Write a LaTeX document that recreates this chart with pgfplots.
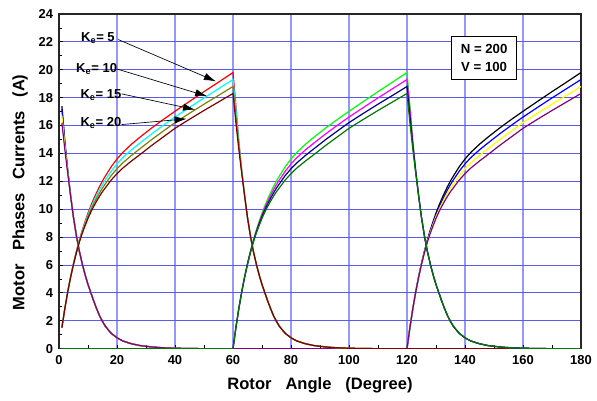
\documentclass[border=0pt]{standalone}
\usepackage{fontspec}
\setmainfont{Liberation Sans}
\usepackage{pgfplots}
\pgfplotsset{compat=1.18}
\usepackage{pgfplotstable}
\usetikzlibrary{arrows.meta}

\definecolor{cRed}{RGB}{255,0,0}
\definecolor{cCyan}{RGB}{0,255,255}
\definecolor{cOlive}{RGB}{128,128,0}
\definecolor{cDarkRed}{RGB}{128,0,0}
\definecolor{cGreen}{RGB}{0,255,0}
\definecolor{cMagenta}{RGB}{255,0,255}
\definecolor{cNavy}{RGB}{0,0,128}
\definecolor{cDarkGreen}{RGB}{0,120,0}
\definecolor{cBlack}{RGB}{0,0,0}
\definecolor{cBlue}{RGB}{0,0,255}
\definecolor{cYellow}{RGB}{255,255,0}
\definecolor{cPurple}{RGB}{128,0,128}
\definecolor{gridV}{RGB}{150,150,255}
\definecolor{gridH}{RGB}{90,90,235}

% Phase A: rises 0-60, decays after 60
\pgfplotstableread{
x k5 k10 k15 k20
1 1.51 1.51 1.51 1.51
2 2.86 2.86 2.86 2.86
3 4.06 4.06 4.06 4.06
4 5.14 5.13 5.12 5.11
5 6.11 6.09 6.07 6.05
6 6.98 6.95 6.91 6.88
7 7.77 7.72 7.67 7.62
8 8.48 8.41 8.33 8.26
9 9.12 9.02 8.92 8.82
10 9.72 9.59 9.47 9.34
11 10.26 10.11 9.95 9.8
12 10.75 10.57 10.39 10.21
13 11.21 11.0 10.8 10.59
14 11.64 11.41 11.17 10.94
15 12.03 11.77 11.52 11.26
16 12.38 12.1 11.82 11.54
18 13.04 12.72 12.41 12.09
20 13.6 13.25 12.9 12.55
22 14.07 13.7 13.32 12.95
25 14.66 14.26 13.86 13.46
28 15.18 14.76 14.35 13.93
32 15.83 15.41 15.0 14.58
36 16.44 16.02 15.61 15.19
40 17.02 16.61 16.21 15.8
45 17.73 17.3 16.88 16.45
50 18.43 17.98 17.53 17.08
55 19.11 18.64 18.16 17.69
60 19.8 19.3 18.8 18.3
61 17.4 17.2 16.7 16.2
62 14.9 14.8 14.6 14.3
63 12.8 12.8 12.7 12.6
64 11.0 11.0 11.0 10.95
65 9.4 9.4 9.4 9.4
66 8.1 8.1 8.1 8.1
67 7.0 7.0 7.0 7.0
68 6.1 6.1 6.1 6.1
69 5.3 5.3 5.3 5.3
70 4.6 4.6 4.6 4.6
71 4.0 4.0 4.0 4.0
72 3.4 3.4 3.4 3.4
73 2.85 2.85 2.85 2.85
74 2.35 2.35 2.35 2.35
75 1.95 1.95 1.95 1.95
76 1.6 1.6 1.6 1.6
78 1.1 1.1 1.1 1.1
80 0.78 0.78 0.78 0.78
82 0.55 0.55 0.55 0.55
85 0.35 0.35 0.35 0.35
88 0.22 0.22 0.22 0.22
92 0.12 0.12 0.12 0.12
96 0.06 0.06 0.06 0.06
100 0.03 0.03 0.03 0.03
105 0.01 0.01 0.01 0.01
110 0 0 0 0
180 0 0 0 0
}\phA

% Phase B: zero until 60, rises 60-120, decays after 120
\pgfplotstableread{
x k5 k10 k15 k20
1 0 0 0 0
60 0 0 0 0
61 1.51 1.51 1.51 1.51
62 2.86 2.86 2.86 2.86
63 4.06 4.06 4.06 4.06
64 5.14 5.13 5.12 5.11
65 6.11 6.09 6.07 6.05
66 6.98 6.95 6.91 6.88
67 7.77 7.72 7.67 7.62
68 8.48 8.41 8.33 8.26
69 9.12 9.02 8.92 8.82
70 9.72 9.59 9.47 9.34
71 10.26 10.11 9.95 9.8
72 10.75 10.57 10.39 10.21
73 11.21 11.0 10.8 10.59
74 11.64 11.41 11.17 10.94
75 12.03 11.77 11.52 11.26
76 12.38 12.1 11.82 11.54
78 13.04 12.72 12.41 12.09
80 13.6 13.25 12.9 12.55
82 14.07 13.7 13.32 12.95
85 14.66 14.26 13.86 13.46
88 15.18 14.76 14.35 13.93
92 15.83 15.41 15.0 14.58
96 16.44 16.02 15.61 15.19
100 17.02 16.61 16.21 15.8
105 17.73 17.3 16.88 16.45
110 18.43 17.98 17.53 17.08
115 19.11 18.64 18.16 17.69
120 19.8 19.3 18.8 18.3
121 17.4 17.2 16.7 16.2
122 14.9 14.8 14.6 14.3
123 12.8 12.8 12.7 12.6
124 11.0 11.0 11.0 10.95
125 9.4 9.4 9.4 9.4
126 8.1 8.1 8.1 8.1
127 7.0 7.0 7.0 7.0
128 6.1 6.1 6.1 6.1
129 5.3 5.3 5.3 5.3
130 4.6 4.6 4.6 4.6
131 4.0 4.0 4.0 4.0
132 3.4 3.4 3.4 3.4
133 2.85 2.85 2.85 2.85
134 2.35 2.35 2.35 2.35
135 1.95 1.95 1.95 1.95
136 1.6 1.6 1.6 1.6
138 1.1 1.1 1.1 1.1
140 0.78 0.78 0.78 0.78
142 0.55 0.55 0.55 0.55
145 0.35 0.35 0.35 0.35
148 0.22 0.22 0.22 0.22
152 0.12 0.12 0.12 0.12
156 0.06 0.06 0.06 0.06
160 0.03 0.03 0.03 0.03
165 0.01 0.01 0.01 0.01
170 0 0 0 0
180 0 0 0 0
}\phB

% Phase C: decays from 0, zero until 120, rises 120-180
\pgfplotstableread{
x k5 k10 k15 k20
1 17.4 17.2 16.7 16.2
2 14.9 14.8 14.6 14.3
3 12.8 12.8 12.7 12.6
4 11.0 11.0 11.0 10.95
5 9.4 9.4 9.4 9.4
6 8.1 8.1 8.1 8.1
7 7.0 7.0 7.0 7.0
8 6.1 6.1 6.1 6.1
9 5.3 5.3 5.3 5.3
10 4.6 4.6 4.6 4.6
11 4.0 4.0 4.0 4.0
12 3.4 3.4 3.4 3.4
13 2.85 2.85 2.85 2.85
14 2.35 2.35 2.35 2.35
15 1.95 1.95 1.95 1.95
16 1.6 1.6 1.6 1.6
18 1.1 1.1 1.1 1.1
20 0.78 0.78 0.78 0.78
22 0.55 0.55 0.55 0.55
25 0.35 0.35 0.35 0.35
28 0.22 0.22 0.22 0.22
32 0.12 0.12 0.12 0.12
36 0.06 0.06 0.06 0.06
40 0.03 0.03 0.03 0.03
45 0.01 0.01 0.01 0.01
50 0 0 0 0
120 0 0 0 0
121 1.51 1.51 1.51 1.51
122 2.86 2.86 2.86 2.86
123 4.06 4.06 4.06 4.06
124 5.14 5.13 5.12 5.11
125 6.11 6.09 6.07 6.05
126 6.98 6.95 6.91 6.88
127 7.77 7.72 7.67 7.62
128 8.48 8.41 8.33 8.26
129 9.12 9.02 8.92 8.82
130 9.72 9.59 9.47 9.34
131 10.26 10.11 9.95 9.8
132 10.75 10.57 10.39 10.21
133 11.21 11.0 10.8 10.59
134 11.64 11.41 11.17 10.94
135 12.03 11.77 11.52 11.26
136 12.38 12.1 11.82 11.54
138 13.04 12.72 12.41 12.09
140 13.6 13.25 12.9 12.55
142 14.07 13.7 13.32 12.95
145 14.66 14.26 13.86 13.46
148 15.18 14.76 14.35 13.93
152 15.83 15.41 15.0 14.58
156 16.44 16.02 15.61 15.19
160 17.02 16.61 16.21 15.8
165 17.73 17.3 16.88 16.45
170 18.43 17.98 17.53 17.08
175 19.11 18.64 18.16 17.69
180 19.8 19.3 18.8 18.3
}\phC

\begin{document}
\begin{tikzpicture}
\begin{axis}[
  scale only axis,
  width=391.5pt, height=251pt,
  xmin=0, xmax=180, ymin=0, ymax=24,
  xtick={0,20,40,60,80,100,120,140,160,180},
  xticklabels={0,20,40,60,80,100,120,140,160,180},
  ytick={0,2,4,6,8,10,12,14,16,18,20,22,24},
  yticklabels={0,2,4,6,8,10,12,14,16,18,20,22,24},
  minor x tick num=1, minor y tick num=1,
  tick align=inside, xtick pos=bottom, ytick pos=left,
  major tick length=3pt, minor tick length=2.5pt,
  tick style={black, line width=0.6pt},
  grid=major,
  major x grid style={gridV, line width=0.9pt},
  major y grid style={gridH, line width=0.6pt},
  axis line style={black!85, line width=0.9pt},
  tick label style={font=\bfseries\fontsize{9.7}{10}\selectfont},
  xticklabel style={yshift=-1.5pt},
  yticklabel style={xshift=-1pt},
  xlabel={Rotor\hspace{10.5pt}Angle\hspace{10.5pt}(Degree)},
  ylabel={Motor\hspace{10pt}Phases\hspace{10pt}Currents\hspace{10pt}(A)},
  every axis x label/.style={at={(axis description cs:0.5,-0.110)}, anchor=center,
     font=\bfseries\fontsize{12.4}{14}\selectfont},
  every axis y label/.style={at={(axis description cs:-0.0747,0.467)}, anchor=center, rotate=90,
     font=\bfseries\fontsize{12.4}{14}\selectfont},
  every axis plot/.append style={line width=0.9pt, no markers},
  clip=true,
]
% Phase C
\addplot[cBlack] table[x=x,y=k5]{\phC};
\addplot[cBlue] table[x=x,y=k10]{\phC};
\addplot[cYellow] table[x=x,y=k15]{\phC};
\addplot[cPurple] table[x=x,y=k20]{\phC};
% Phase A
\addplot[cRed] table[x=x,y=k5]{\phA};
\addplot[cCyan] table[x=x,y=k10]{\phA};
\addplot[cOlive] table[x=x,y=k15]{\phA};
\addplot[cDarkRed] table[x=x,y=k20]{\phA};
% Phase B
\addplot[cGreen] table[x=x,y=k5]{\phB};
\addplot[cMagenta] table[x=x,y=k10]{\phB};
\addplot[cNavy] table[x=x,y=k15]{\phB};
\addplot[cDarkGreen] table[x=x,y=k20]{\phB};

% annotations
\begin{scope}[every node/.style={font=\bfseries\fontsize{9.75}{11}\selectfont, inner sep=0pt}]
\node[anchor=base east] at (axis cs:19.3,22.04) {K\textsubscript{e}= 5};
\node[anchor=base east] at (axis cs:20.1,19.82) {K\textsubscript{e}= 10};
\node[anchor=base east] at (axis cs:21.6,17.91) {K\textsubscript{e}= 15};
\node[anchor=base east] at (axis cs:21.6,15.95) {K\textsubscript{e}= 20};
\end{scope}
\draw[-{Latex[length=9pt,width=5.5pt]}, line width=0.5pt] (axis cs:20.4,22.17) -- (axis cs:54.1,19.17);
\draw[-{Latex[length=9pt,width=5.5pt]}, line width=0.5pt] (axis cs:19.9,20.06) -- (axis cs:51.1,18.1);
\draw[-{Latex[length=9pt,width=5.5pt]}, line width=0.5pt] (axis cs:21.6,18.27) -- (axis cs:46.9,17.14);
\draw[-{Latex[length=9pt,width=5.5pt]}, line width=0.5pt] (axis cs:21.6,16.07) -- (axis cs:44.0,16.48);

\node[draw=black, fill=white, line width=0.6pt, align=center,
      minimum width=48.75pt, minimum height=32.25pt, inner sep=0pt,
      font=\bfseries\fontsize{9.9}{13.2}\selectfont]
  at (axis cs:146.6,20.85) {N = 200\\V = 100};
\end{axis}
\pgfresetboundingbox
\path[use as bounding box] ([xshift=-44.25pt,yshift=-39pt]current axis.south west) rectangle ([xshift=12pt,yshift=10.5pt]current axis.north east);
\end{tikzpicture}
\end{document}
